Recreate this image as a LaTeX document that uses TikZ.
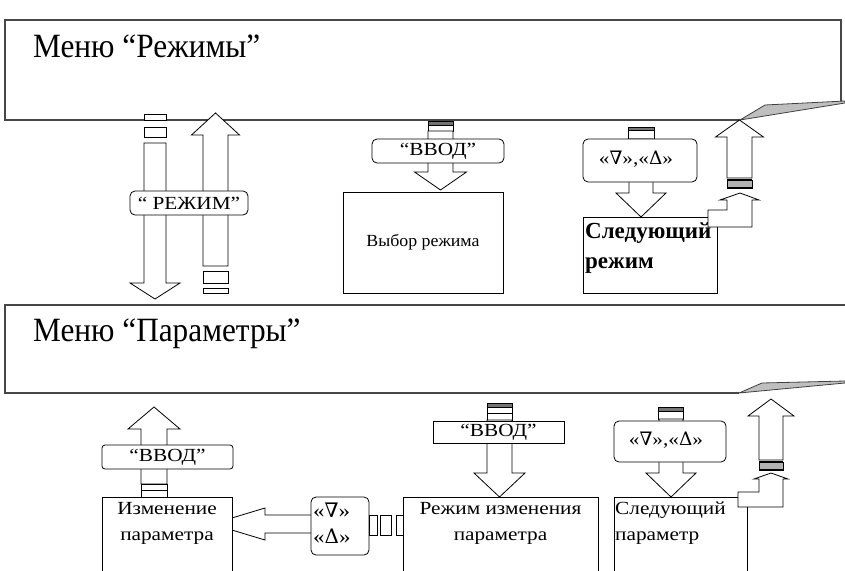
\documentclass[tikz,border=0pt]{standalone}
\usepackage{fontspec}
\setmainfont{Liberation Serif}
\newfontfamily\wideserif[FakeStretch=1.15]{Liberation Serif}
\newfontfamily\midserif[FakeStretch=1.05]{Liberation Serif}
\newfontfamily\symfont{DejaVu Serif}
\newfontfamily\headfont[FakeStretch=0.92]{Liberation Serif}
\newcommand\Nab{{\symfont ∇}}
\newcommand\Del{{\symfont Δ}}
% vertical block arrow: cx, shaft half width, head half width, tip y, head base y, tail y
\newcommand\varrow[6]{%
  \draw[blk] ({#1-#2},#6) -- ({#1-#2},#5) -- ({#1-#3},#5) -- (#1,#4) -- ({#1+#3},#5) -- ({#1+#2},#5) -- ({#1+#2},#6) -- cycle;}
\tikzset{
  menu/.style={draw=black!72, line width=1.4pt},
  blk/.style={draw=black, line width=0.8pt, fill=white},
  box/.style={draw=black, line width=0.8pt, fill=white, inner sep=0pt, outer sep=0pt, anchor=north west},
  rbox/.style={box, rounded corners=5pt},
  small/.style={font=\wideserif\fontsize{18.5}{21}\selectfont},
  symtxt/.style={font=\wideserif\fontsize{18.5}{21}\selectfont},
  head/.style={font=\headfont\fontsize{34}{38}\selectfont, anchor=base west, inner sep=0pt},
  curl/.style={draw=black!75, line width=0.8pt, fill=black!25},
  plate/.style={draw=black, line width=0.8pt, fill=white},
  gplate/.style={draw=black, line width=0.8pt, fill=black!55},
}
\begin{document}
\begin{tikzpicture}[x=1pt,y=-1pt]
\useasboundingbox (0,0) rectangle (845,570);
\clip (0,0) rectangle (845,570);
\fill[white] (0,0) rectangle (845,570);

% ===== top menu =====
\draw[menu] (740,120) -- (5,120) -- (5,20) -- (841,20) -- (841,103);
\draw[curl] (740,120) -- (765,105) -- (845,101) -- (845,103) -- cycle;
\node[head] (menuA) at (33,57) {Меню “Режимы”};

% left down arrow
\draw[plate] (144,114) rectangle (166,120);
\draw[plate] (144,127) rectangle (166,137);
\varrow{155}{11}{25}{299}{283}{143}
% left up arrow
\varrow{215.5}{12.5}{24}{113}{135}{266}
\draw[plate] (203,271) rectangle (228,283);
\draw[plate] (203,288) rectangle (228,293);
\node[rbox, minimum width=118pt, minimum height=24pt, small] (rezhim) at (130,191) {“ РЕЖИМ”};

% ВВОД top
\draw[gplate] (428,121) rectangle (453,125);
\draw[plate] (428,125) rectangle (453,131);
\varrow{440.5}{12.5}{26}{190}{172}{131}
\node[rbox, minimum width=132pt, minimum height=24pt, small] (vvodA) at (372,139) {“ВВОД”};
\node[box, minimum width=160pt, minimum height=101pt] (vybor) at (343,192) {};
\node[font=\midserif\fontsize{17}{20}\selectfont] (vybortxt) at (vybor.center) {Выбор режима};

% ∇Δ top
\draw[gplate] (628,127) rectangle (654,130);
\draw[plate] (628,130) rectangle (654,139);
\varrow{641}{12}{25}{217}{193}{139}
\node[rbox, minimum width=114pt, minimum height=43pt] (ndA) at (583,139) {};
\node[symtxt, anchor=north] (ndAtxt) at (ndA.north) [xshift=-4pt, yshift=-8pt] {«\Nab»,«\Del»};
\node[box, minimum width=134pt, minimum height=76pt] (sledA) at (583,217) {};
\node[font=\bfseries\fontsize{23}{26}\selectfont, align=left, anchor=north west, inner sep=0pt] (sledAtxt) at (585,222) {Следующий\\[4pt]режим};

% right up arrow top
\varrow{739.5}{12.5}{24}{120}{137}{178}
\draw[line width=0.8pt, fill=black!30] (727,180) rectangle (752,188);
\draw[line width=2pt] (727,180) -- (752,180) (727,188) -- (752,188);
\draw[blk] (708,227) -- (708,210) -- (727,210) -- (727,200) -- (720,200) -- (740,193) -- (759,200) -- (752,200) -- (752,227) -- cycle;

% ===== bottom menu =====
\draw[menu] (739,393) -- (5,393) -- (5,305) -- (845,305);
\draw[curl] (739,393) -- (762,383) -- (845,381) -- (845,383) -- cycle;
\node[head] (menuB) at (33,341) {Меню “Параметры”};

% lower-left up arrow with ВВОД
\varrow{154}{13}{26}{407}{429}{484}
\draw[plate] (141,484) rectangle (167,490);
\draw[plate] (141,490) rectangle (167,497);
\node[rbox, rounded corners=3pt, minimum width=131pt, minimum height=24pt, small] (vvodB) at (102,445) {“ВВОД”};

% left arrow into Изменение параметра
\draw[blk] (311,515) -- (265,515) -- (265,508) -- (212,524) -- (265,540) -- (265,533) -- (311,533);
\node[box, minimum width=130pt, minimum height=90pt] (izm) at (102,497) {};
\node[small, align=center, anchor=north, inner sep=0pt] (izmtxt) at (167,502) {Изменение\\[5pt]параметра};

% ∇Δ vertical
\node[rbox, minimum width=58pt, minimum height=58pt] (ndV) at (311,497) {};
\node[font=\wideserif\fontsize{20}{22}\selectfont, align=left, anchor=north west, inner sep=0pt] (ndVtxt) at (313,503) {«\Nab»\\[4pt]«\Del»};
\draw[plate] (369,515) rectangle (377,535);
\draw[plate] (380,515) rectangle (391,535);
\draw[plate] (396,515) rectangle (403,535);

% ВВОД middle
\draw[gplate] (487,403) rectangle (512,407);
\draw[plate] (487,407) rectangle (512,413);
\draw[plate] (487,413) rectangle (512,420);
\varrow{499.5}{12.5}{25.5}{497}{473}{420}
\node[box, minimum width=131pt, minimum height=22pt, small] (vvodC) at (433,421) {“ВВОД”};
\node[box, minimum width=195pt, minimum height=90pt] (rezhizm) at (403,497) {};
\node[small, align=center, anchor=north, inner sep=0pt] (rezhizmtxt) at (500.5,502) {Режим изменения\\[5pt]параметра};

% ∇Δ bottom
\draw[gplate] (658,407) rectangle (683,411);
\draw[plate] (658,411) rectangle (683,419);
\varrow{671}{12}{25}{497}{473}{419}
\node[rbox, minimum width=112pt, minimum height=41pt] (ndB) at (614,421) {};
\node[symtxt, anchor=north] (ndBtxt) at (ndB.north) [xshift=-4pt, yshift=-7pt] {«\Nab»,«\Del»};
\node[box, minimum width=133pt, minimum height=90pt] (sledB) at (614,497) {};
\node[small, align=left, anchor=north west, inner sep=0pt] (sledBtxt) at (615,502) {Следующий\\[5pt]параметр};

% right up arrow bottom
\varrow{771}{12}{23}{399}{416}{460}
\draw[line width=0.8pt, fill=black!30] (759,462) rectangle (783,470);
\draw[line width=2pt] (759,462) -- (783,462) (759,470) -- (783,470);
\draw[blk] (738,507) -- (738,492) -- (759,492) -- (759,479) -- (754,479) -- (771,473) -- (788,479) -- (783,479) -- (783,507) -- cycle;
\draw[line width=0.8pt] (747,507) -- (747,575);
\end{tikzpicture}
\end{document}
